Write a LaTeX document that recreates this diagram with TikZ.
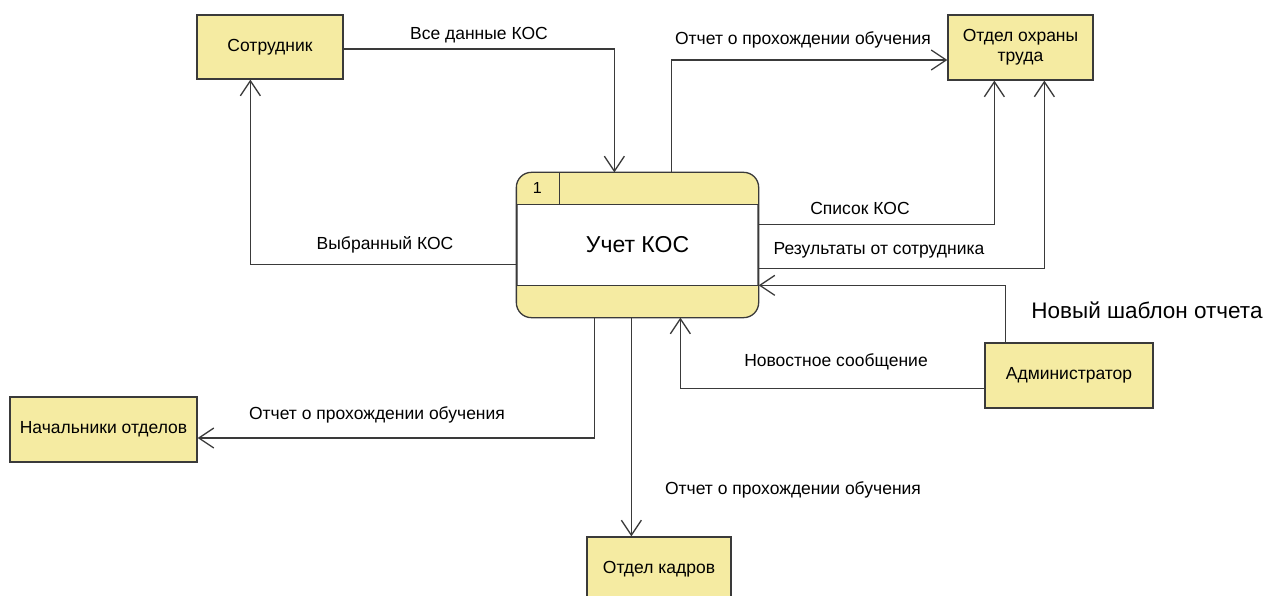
\documentclass[tikz,border=0pt]{standalone}
\usepackage{fontspec}
\setmainfont{Liberation Sans}
\usetikzlibrary{arrows.meta,calc}
\definecolor{boxfill}{HTML}{F5EBA2}
\definecolor{edge}{HTML}{3A3A3A}
\begin{document}
\begin{tikzpicture}[x=1pt,y=-1pt,
  ent/.style={draw=edge, line width=1.3pt, fill=boxfill, inner sep=0pt, align=center,
    font=\fontsize{17.5}{20}\selectfont},
  flow/.style={draw=edge, line width=1.3pt, -{Straight Barb[length=15pt,width=20pt,line width=1.3pt]}},
  lbl/.style={font=\fontsize{17.5}{20}\selectfont, inner sep=0pt}]
\useasboundingbox (0,0) rectangle (1266,596);
\clip (0,0) rectangle (1266,596);
\fill[white] (0,0) rectangle (1266,596);

% entities
\node[ent, minimum width=146pt, minimum height=64pt] (sotr) at (270,47) {Сотрудник};
\node[ent, minimum width=145pt, minimum height=65pt] (ohr) at (1020.5,47.5) {Отдел охраны\\труда};
\node[ent, minimum width=187pt, minimum height=65pt] (nach) at (103.5,429.5) {Начальники отделов};
\node[ent, minimum width=168pt, minimum height=65pt] (admin) at (1069,375.5) {Администратор};
\node[ent, minimum width=144pt, minimum height=64pt] (kadr) at (659,569) {Отдел кадров};

% process
\node[draw=edge, line width=1.3pt, rounded corners=15pt, fill=white,
  minimum width=241pt, minimum height=144pt] (proc) at (637.5,245) {};
\begin{scope}
  \clip[rounded corners=15pt] (proc.north west) rectangle (proc.south east);
  \fill[boxfill] (proc.north west) rectangle ($(proc.north east)+(0,32)$);
  \fill[boxfill] ($(proc.south west)+(0,-32)$) rectangle (proc.south east);
\end{scope}
\draw[edge, line width=1.3pt] ($(proc.north west)+(0,32)$) -- ($(proc.north east)+(0,32)$);
\draw[edge, line width=1.3pt] ($(proc.south west)+(0,-32)$) -- ($(proc.south east)+(0,-32)$);
\draw[edge, line width=1.3pt] ($(proc.north west)+(43,0)$) -- ($(proc.north west)+(43,32)$);
\draw[edge, line width=1.3pt, rounded corners=15pt] (proc.north west) rectangle (proc.south east);
\node[font=\fontsize{16}{18}\selectfont] (pnum) at ($(proc.north west)+(21,16)$) {1};
\node[font=\fontsize{23}{27}\selectfont] (ptitle) at (proc.center) {Учет КОС};

% flows
\draw[flow] ($(sotr.east)+(0,2)$) -| ($(proc.north west)+(98,0)$);
\node[lbl] (l1) at (479,35) {Все данные КОС};

\draw[flow] ($(proc.north west)+(155,0)$) |- ($(ohr.west)+(0,12.5)$);
\node[lbl] (l2) at (803,40) {Отчет о прохождении обучения};

\draw[flow] ($(proc.north east)+(0,52)$) -| ($(ohr.south west)+(47,0)$);
\node[lbl] (l3) at (860,208) {Список КОС};

\draw[flow] ($(proc.north east)+(0,96)$) -| ($(ohr.south west)+(97,0)$);
\node[lbl] (l4) at (879,250) {Результаты от сотрудника};

\draw[flow] ($(admin.north west)+(21,0)$) |- ($(proc.north east)+(0,113)$);
\node[font=\fontsize{22.5}{26}\selectfont, inner sep=0pt] (l5) at (1147,310) {Новый шаблон отчета};

\draw[flow] ($(admin.south west)+(0,-20)$) -| ($(proc.south west)+(164,0)$);
\node[lbl] (l6) at (836,362) {Новостное сообщение};

\draw[flow] ($(proc.north west)+(0,92)$) -| ($(sotr.south west)+(54,0)$);
\node[lbl] (l7) at (385,245) {Выбранный КОС};

\draw[flow] ($(proc.south west)+(78,0)$) |- ($(nach.east)+(0,8.5)$);
\node[lbl] (l8) at (377,415) {Отчет о прохождении обучения};

\draw[flow] ($(proc.south west)+(115,0)$) -- ($(kadr.north west)+(45,0)$);
\node[lbl] (l9) at (793,490) {Отчет о прохождении обучения};
\end{tikzpicture}
\end{document}
